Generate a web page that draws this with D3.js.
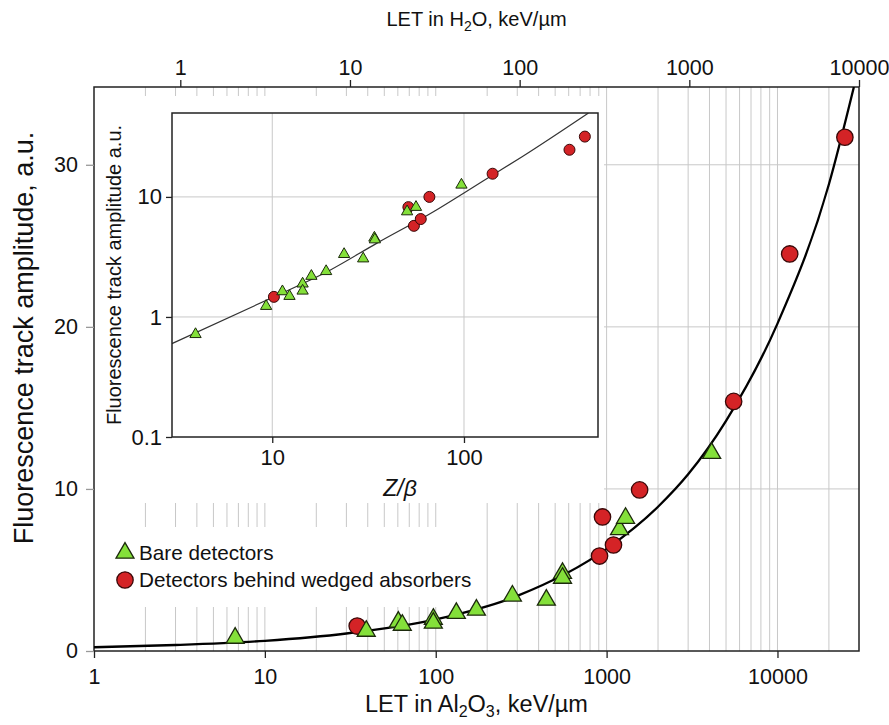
<!DOCTYPE html>
<html>
<head>
<meta charset="utf-8">
<script src="https://cdn.jsdelivr.net/npm/d3@7"></script>
<style>
  body { margin: 0; background: #fff; }
  svg { font-family: 'Liberation Sans', Arial, sans-serif; }
</style>
</head>
<body>
<script>
// main panel: amplitude vs LET in Al2O3
const bareLET = [6.7, 39.2, 60.4, 63.7, 96.8, 96.8, 132, 173, 281, 444, 552, 552, 1190, 1291, 4120]
const bareAmp = [0.8, 1.23, 1.79, 1.6, 1.97, 1.73, 2.33, 2.53, 3.4, 3.15, 4.8, 4.5, 7.5, 8.2, 12.2]
const wedgedLET = [34.7, 909, 946, 1097, 1560, 5540, 11790, 24800]
const wedgedAmp = [1.54, 5.86, 8.27, 6.54, 9.94, 15.4, 24.5, 31.7]
const fitLET = [1, 3, 10, 30, 100, 300, 1000, 2000, 3000, 5000, 10000, 20000, 28000]
const fitAmp = [0.23, 0.37, 0.63, 1.08, 1.95, 3.4, 6.3, 8.9, 10.9, 14.2, 20.2, 28.8, 34.8]

// inset: amplitude vs Z/beta (log-log)
const insetBareZ = [3.98, 9.29, 11.3, 12.3, 14.4, 14.4, 16.0, 19.1, 23.7, 29.8, 34.1, 34.3, 50.5, 56.2, 97]
const insetBareAmp = [0.717, 1.23, 1.63, 1.49, 1.89, 1.65, 2.19, 2.4, 3.33, 3.06, 4.56, 4.41, 7.55, 8.22, 12.6]
const insetWedgedZ = [10.2, 51.3, 54.8, 59.5, 66, 141, 355, 427]
const insetWedgedAmp = [1.47, 8.22, 5.74, 6.54, 10.0, 15.6, 24.7, 31.8]
const insetFitZ = [3, 10, 20, 35, 70, 100, 142, 200, 446]
const insetFitAmp = [0.6, 1.45, 2.45, 4.1, 7.6, 10.8, 15.3, 21.5, 50]

// ticks
const bottomTicks = [1, 10, 100, 1000, 10000]
const topTicks = [1, 10, 100, 1000, 10000]
const yTicks = [0, 10, 20, 30]
const insetXTicks = [10, 100]
const insetYTicks = [0.1, 1, 10]

const legendLabels = ['Bare detectors', 'Detectors behind wedged absorbers']

const w = 889
const h = 725
const green = '#84e03a'
const red = '#d42326'
const gridColor = '#c8c8c8'
const tickFont = 21.5

const svg = d3.select('body').append('svg')
  .attr('width', w)
  .attr('height', h)
  .style('font-size', '20px')

const x = d3.scaleLog().domain([1, 30000]).range([94, 859])
const xTop = d3.scaleLog().domain([0.31, 10000]).range([94, 859])
const y = d3.scaleLinear().domain([0, 34.8]).range([651, 87])

const [x0, x1] = x.range()
const [y0, y1] = y.range()

// grid
svg.append('g')
  .selectAll('line')
  .data(x.ticks().filter(d => d > 1 && d < 30000))
  .join('line')
    .attr('x1', d => x(d)).attr('x2', d => x(d))
    .attr('y1', y0).attr('y2', y1)
    .attr('stroke', gridColor)
    .attr('stroke-width', 1)

svg.append('g')
  .selectAll('line')
  .data(yTicks.filter(d => d > 0))
  .join('line')
    .attr('x1', x0).attr('x2', x1)
    .attr('y1', d => y(d)).attr('y2', d => y(d))
    .attr('stroke', gridColor)
    .attr('stroke-width', 1)

// white boxes behind inset and legend
svg.append('rect')
  .attr('x', x0 + 1).attr('y', 96)
  .attr('width', 603 - x0).attr('height', 503 - 96)
  .attr('fill', '#fff')

svg.append('rect')
  .attr('x', x0 + 1).attr('y', 527)
  .attr('width', 480 - x0).attr('height', 607 - 527)
  .attr('fill', '#fff')

svg.append('defs').append('clipPath')
  .attr('id', 'clip-main')
  .append('rect')
    .attr('x', x0).attr('y', y1)
    .attr('width', x1 - x0).attr('height', y0 - y1)

// frame
svg.append('rect')
  .attr('x', x0).attr('y', y1)
  .attr('width', x1 - x0).attr('height', y0 - y1)
  .attr('fill', 'none')
  .attr('stroke', '#222')
  .attr('stroke-width', 1.5)

// axes
const styleAxis = (g, color, size) => {
  g.select('.domain').remove()
  g.selectAll('.tick line').attr('stroke', color).attr('stroke-width', 1.3)
  g.selectAll('.tick text').attr('fill', '#111').style('font-size', size + 'px')
    .style('font-family', "'Liberation Sans', Arial, sans-serif")
}

svg.append('g')
  .attr('transform', `translate(0, ${y0})`)
  .call(d3.axisBottom(x).tickValues(bottomTicks).tickFormat(d3.format('d')).tickSize(7).tickPadding(11))
  .call(g => styleAxis(g, '#222', tickFont))

svg.append('g')
  .attr('transform', `translate(0, ${y1})`)
  .call(d3.axisTop(xTop).tickValues(topTicks).tickFormat(d3.format('d')).tickSize(7).tickPadding(5))
  .call(g => styleAxis(g, '#222', tickFont))

svg.append('g')
  .attr('transform', `translate(${x0}, 0)`)
  .call(d3.axisLeft(y).tickValues(yTicks).tickSize(8).tickPadding(8))
  .call(g => styleAxis(g, '#999', tickFont))

// axis titles
const subTitle = (g, parts, size, subSize) => {
  g.style('font-size', size + 'px')
  parts.forEach(([t, sub]) => {
    g.append('tspan')
      .attr('dy', sub === 1 ? 5 : sub === -1 ? -5 : 0)
      .style('font-size', (sub === 1 ? subSize : size) + 'px')
      .text(t)
  })
}

svg.append('text')
  .attr('x', (x0 + x1) / 2).attr('y', 712)
  .attr('text-anchor', 'middle')
  .attr('fill', '#111')
  .call(g => subTitle(g, [['LET in Al', 0], ['2', 1], ['O', -1], ['3', 1], [', keV/\u00b5m', -1]], 23.5, 16))

svg.append('text')
  .attr('x', (x0 + x1) / 2).attr('y', 26)
  .attr('text-anchor', 'middle')
  .attr('fill', '#111')
  .call(g => subTitle(g, [['LET in H', 0], ['2', 1], ['O, keV/\u00b5m', -1]], 20, 14))

svg.append('text')
  .attr('transform', 'translate(33, 338) rotate(-90)')
  .attr('text-anchor', 'middle')
  .attr('fill', '#111')
  .style('font-size', '27px')
  .text('Fluorescence track amplitude, a.u.')

// fit curve
const line = d3.line()
  .x(d => x(d[0]))
  .y(d => y(d[1]))
  .curve(d3.curveMonotoneX)

svg.append('path')
  .datum(d3.zip(fitLET, fitAmp))
  .attr('clip-path', 'url(#clip-main)')
  .attr('d', line)
  .attr('fill', 'none')
  .attr('stroke', '#000')
  .attr('stroke-width', 2.3)

// markers
const triangle = size => d3.symbol().type(d3.symbolTriangle).size(size)

svg.append('g')
  .selectAll('circle')
  .data(d3.zip(wedgedLET, wedgedAmp))
  .join('circle')
    .attr('cx', d => x(d[0]))
    .attr('cy', d => y(d[1]))
    .attr('r', 8.2)
    .attr('fill', red)
    .attr('stroke', '#3a0808')
    .attr('stroke-width', 1.3)

svg.append('g')
  .selectAll('path')
  .data(d3.zip(bareLET, bareAmp))
  .join('path')
    .attr('transform', d => `translate(${x(d[0])}, ${y(d[1])})`)
    .attr('d', triangle(140))
    .attr('fill', green)
    .attr('stroke', '#1c2a0c')
    .attr('stroke-width', 1.3)

// legend
const legend = svg.append('g')
  .attr('transform', 'translate(125, 553)')

legend.append('path')
  .attr('d', triangle(140))
  .attr('fill', green)
  .attr('stroke', '#1c2a0c')
  .attr('stroke-width', 1.3)

legend.append('circle')
  .attr('cy', 27)
  .attr('r', 8.2)
  .attr('fill', red)
  .attr('stroke', '#3a0808')
  .attr('stroke-width', 1.3)

legend.selectAll('text')
  .data(legendLabels)
  .join('text')
    .attr('x', 14)
    .attr('y', (d, i) => i * 27 + 7)
    .attr('fill', '#111')
    .style('font-size', '20.7px')
    .text(d => d)

// inset
const ix = d3.scaleLog().domain([3, 500]).range([172, 598])
const iy = d3.scaleLog().domain([0.1, 50]).range([437, 113])
const [ix0, ix1] = ix.range()
const [iy0, iy1] = iy.range()

const inset = svg.append('g')

inset.append('g')
  .selectAll('line')
  .data(insetXTicks)
  .join('line')
    .attr('x1', d => ix(d)).attr('x2', d => ix(d))
    .attr('y1', iy0).attr('y2', iy1)
    .attr('stroke', gridColor)

inset.append('g')
  .selectAll('line')
  .data(insetYTicks.filter(d => d > 0.1))
  .join('line')
    .attr('x1', ix0).attr('x2', ix1)
    .attr('y1', d => iy(d)).attr('y2', d => iy(d))
    .attr('stroke', gridColor)

inset.append('defs').append('clipPath')
  .attr('id', 'clip-inset')
  .append('rect')
    .attr('x', ix0).attr('y', iy1)
    .attr('width', ix1 - ix0).attr('height', iy0 - iy1)

inset.append('path')
  .datum(d3.zip(insetFitZ, insetFitAmp))
  .attr('clip-path', 'url(#clip-inset)')
  .attr('d', d3.line().x(d => ix(d[0])).y(d => iy(d[1])).curve(d3.curveMonotoneX))
  .attr('fill', 'none')
  .attr('stroke', '#333')
  .attr('stroke-width', 1.2)

inset.append('g')
  .selectAll('circle')
  .data(d3.zip(insetWedgedZ, insetWedgedAmp))
  .join('circle')
    .attr('cx', d => ix(d[0]))
    .attr('cy', d => iy(d[1]))
    .attr('r', 5.5)
    .attr('fill', red)
    .attr('stroke', '#3a0808')
    .attr('stroke-width', 1)

inset.append('g')
  .selectAll('path')
  .data(d3.zip(insetBareZ, insetBareAmp))
  .join('path')
    .attr('transform', d => `translate(${ix(d[0])}, ${iy(d[1])})`)
    .attr('d', triangle(55))
    .attr('fill', green)
    .attr('stroke', '#1c2a0c')
    .attr('stroke-width', 1)

inset.append('rect')
  .attr('x', ix0).attr('y', iy1)
  .attr('width', ix1 - ix0).attr('height', iy0 - iy1)
  .attr('fill', 'none')
  .attr('stroke', '#222')
  .attr('stroke-width', 1.5)

inset.append('g')
  .attr('transform', `translate(0, ${iy0})`)
  .call(d3.axisBottom(ix).tickValues(insetXTicks).tickFormat(d3.format('d')).tickSize(6).tickPadding(6))
  .call(g => styleAxis(g, '#222', 22))

inset.append('g')
  .attr('transform', `translate(${ix0}, 0)`)
  .call(d3.axisLeft(iy).tickValues(insetYTicks).tickFormat(d => d).tickSize(6).tickPadding(4))
  .call(g => styleAxis(g, '#222', 22))

inset.append('text')
  .attr('transform', `translate(121, ${(iy0 + iy1) / 2}) rotate(-90)`)
  .attr('text-anchor', 'middle')
  .attr('fill', '#111')
  .style('font-size', '20px')
  .text('Fluorescence track amplitude a.u.')

inset.append('text')
  .attr('x', 400).attr('y', 496)
  .attr('text-anchor', 'middle')
  .attr('fill', '#111')
  .style('font-style', 'italic')
  .style('font-size', '23px')
  .text('Z/\u03b2')
</script>
</body>
</html>
